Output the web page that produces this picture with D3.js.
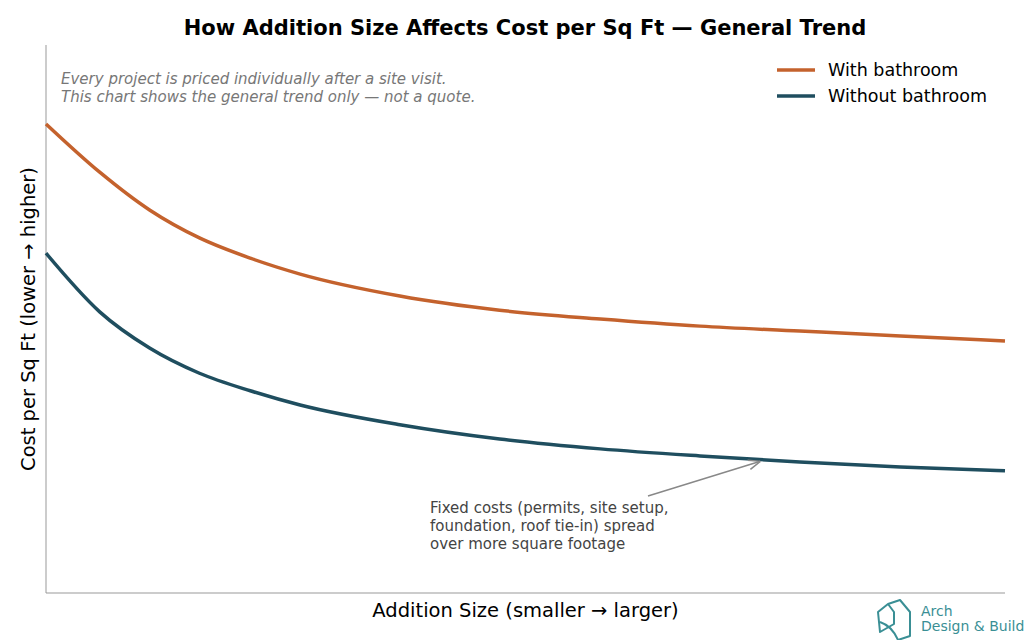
<!DOCTYPE html>
<html><head><meta charset="utf-8">
<script src="https://cdn.jsdelivr.net/npm/d3@7"></script>
<style>body{margin:0;background:#fff;font-family:"DejaVu Sans",sans-serif}</style>
</head><body>
<script>
const sizes = [0, 5.6, 10.8, 16, 21.3, 26.5, 36.9, 47.3, 57.8, 68.2, 78.6, 89.1, 100];
const withBath = [85.6, 76.8, 69.9, 64.8, 61.1, 58.2, 54.2, 51.6, 50.0, 48.7, 47.8, 46.9, 46.0];
const withoutBath = [62.0, 51.3, 44.7, 40.1, 36.9, 34.3, 30.7, 28.1, 26.3, 25.0, 23.9, 23.0, 22.3];
const seriesNames = ["With bathroom", "Without bathroom"];
const colors = ["#c4622d", "#1f4e5f"];

const W = 1024, H = 640;
const m = { left: 46, right: 19, top: 45, bottom: 47 };
const svg = d3.select("body").append("svg").attr("width", W).attr("height", H);

const x = d3.scaleLinear().domain([0, 100]).range([m.left, W - m.right]);
const y = d3.scaleLinear().domain([0, 100]).range([H - m.bottom, m.top]);

svg.append("text").attr("x", 525).attr("y", 35).attr("text-anchor", "middle")
  .attr("font-size", 21).attr("font-weight", "bold").text("How Addition Size Affects Cost per Sq Ft — General Trend");

// axes (left + bottom spines only)
svg.append("line").attr("x1", m.left).attr("x2", m.left).attr("y1", m.top).attr("y2", H - m.bottom).attr("stroke", "#999");
svg.append("line").attr("x1", m.left).attr("x2", W - m.right).attr("y1", H - m.bottom).attr("y2", H - m.bottom).attr("stroke", "#999");

svg.append("text").attr("x", x(50)).attr("y", 617).attr("text-anchor", "middle").attr("font-size", 19.5)
  .text("Addition Size  (smaller → larger)");
svg.append("text").attr("transform", `translate(35,${y(50)}) rotate(-90)`).attr("text-anchor", "middle").attr("font-size", 19.5)
  .text("Cost per Sq Ft  (lower → higher)");

const line = d3.line().x((d, i) => x(sizes[i])).y(d => y(d)).curve(d3.curveMonotoneX);
[withBath, withoutBath].forEach((s, k) => {
  svg.append("path").datum(s).attr("d", line).attr("fill", "none")
    .attr("stroke", colors[k]).attr("stroke-width", 3.5);
});

svg.append("text").attr("x", 61).attr("y", 84).attr("font-size", 15).attr("font-style", "italic").attr("fill", "#777")
  .text("Every project is priced individually after a site visit.");
svg.append("text").attr("x", 61).attr("y", 102).attr("font-size", 15).attr("font-style", "italic").attr("fill", "#777")
  .text("This chart shows the general trend only — not a quote.");

// legend
seriesNames.forEach((n, k) => {
  const ly = 70 + k * 26;
  svg.append("line").attr("x1", 777).attr("x2", 815).attr("y1", ly).attr("y2", ly)
    .attr("stroke", colors[k]).attr("stroke-width", 3.5);
  svg.append("text").attr("x", 828).attr("y", ly + 6).attr("font-size", 17.5).text(n);
});

// annotation
svg.append("defs").append("marker").attr("id", "ah").attr("viewBox", "0 0 10 10").attr("refX", 10).attr("refY", 5)
  .attr("markerWidth", 8).attr("markerHeight", 8).attr("orient", "auto")
  .append("path").attr("d", "M0,1 L10,5 L0,9").attr("fill", "none").attr("stroke", "#888").attr("stroke-width", 1.3);
svg.append("line").attr("x1", 648).attr("y1", 496).attr("x2", x(74.5)).attr("y2", y(24.4) + 2)
  .attr("stroke", "#888").attr("stroke-width", 1.5).attr("marker-end", "url(#ah)");
["Fixed costs (permits, site setup,", "foundation, roof tie-in) spread", "over more square footage"].forEach((t, i) => {
  svg.append("text").attr("x", 430).attr("y", 513 + i * 18).attr("font-size", 15).attr("fill", "#444").text(t);
});

// logo
const g = svg.append("g").attr("fill", "none").attr("stroke", "#3a8f95").attr("stroke-width", 2).attr("stroke-linejoin", "round");
g.append("path").attr("d", "M878,612 L888,604 L894,612 L894,624 L880,632 Z");
g.append("path").attr("d", "M888,604 L900,600 L910,612 L910,636 L898,640 Q892,626 880,622");
svg.append("text").attr("x", 921).attr("y", 616).attr("font-size", 14).attr("fill", "#3a8f95").text("Arch");
svg.append("text").attr("x", 921).attr("y", 631).attr("font-size", 14).attr("fill", "#3a8f95").text("Design & Build");
</script>
</body></html>
